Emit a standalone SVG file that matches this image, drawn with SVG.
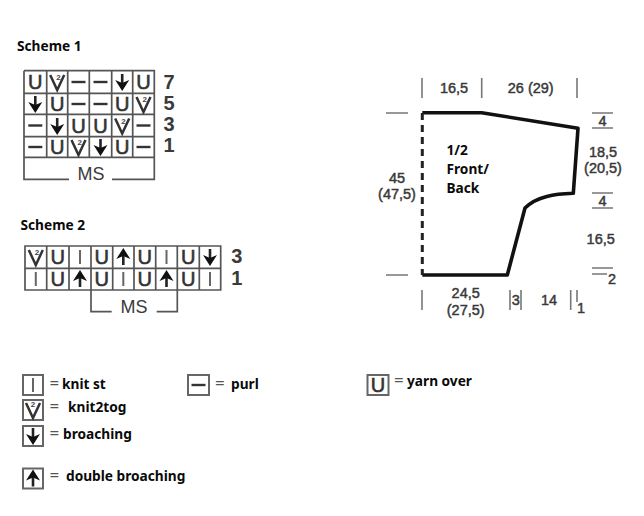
<svg xmlns="http://www.w3.org/2000/svg" width="644" height="516" viewBox="0 0 644 516">
<style>
.lb{font-family:"Noto Sans","Open Sans",sans-serif;font-weight:700;font-size:13.7px;fill:#0a0a0a}
.eq{fill:#555;font-weight:400;font-size:17px}
.g{font-family:"Liberation Sans",Arial,sans-serif;fill:#383838;stroke:#383838;stroke-width:.45;font-size:14.5px;text-anchor:middle}
.u{font-family:"Liberation Sans",Arial,sans-serif;fill:#333;stroke:#333;stroke-width:.6;font-size:20px;text-anchor:middle}
.n{font-family:"Liberation Sans",Arial,sans-serif;font-weight:700;fill:#3a3a3a;font-size:20px;text-anchor:middle}
.ms{font-family:"Liberation Sans",Arial,sans-serif;fill:#3a3a3a;font-size:18px;text-anchor:middle}
.tw{font-family:"Liberation Sans",Arial,sans-serif;font-weight:700;fill:#444;font-size:8px;text-anchor:middle}
.grid{fill:none;stroke:#555;stroke-width:1.7}
.sym{fill:none;stroke:#333;stroke-width:2.4}
.box{fill:#fff;stroke:#666;stroke-width:2}
.t{fill:none;stroke:#777;stroke-width:1.6}
.cut{fill:none;stroke:#111;stroke-width:3.6;stroke-linejoin:round}
</style>
<defs>
<g id="dn"><path d="M0-8V5" stroke="#222" stroke-width="2.6" fill="none"/><path d="M-7-2 0 9 7-2 0 1Z" fill="#111"/></g>
<g id="up"><path d="M0 8V-5" stroke="#222" stroke-width="2.6" fill="none"/><path d="M-7 2 0-9 7 2 0-1Z" fill="#111"/></g>
<path id="pu" d="M-7 0H7" class="sym"/>
<path id="kn" d="M0-7V7" fill="none" stroke="#666" stroke-width="2"/>
<path id="k2" d="M-7-7 0 8 7-7" fill="none" stroke="#333" stroke-width="2.5"/>
</defs>

<g id="scheme1">
<text class="lb" x="17" y="51">Scheme 1</text>
<path class="grid" d="M24 70.7H154.3V179.3H112M69 179.3H24V70.7M24 93.3H154.3M24 114.3H154.3M24 136.7H154.3M24 157.3H154.3M46.7 70.7V157.3M67.7 70.7V157.3M89.3 70.7V157.3M111.7 70.7V157.3M132.7 70.7V157.3"/>
<text class="u" x="35.3" y="89">U</text><use href="#k2" x="57.2" y="82"/><text class="tw" x="58.5" y="80">2</text><use href="#pu" x="78.5" y="82"/><use href="#pu" x="100.5" y="82"/><use href="#dn" x="122.2" y="82"/><text class="u" x="143.5" y="89">U</text>
<use href="#dn" x="35.3" y="104"/><text class="u" x="57.2" y="111">U</text><use href="#pu" x="78.5" y="104"/><use href="#pu" x="100.5" y="104"/><text class="u" x="122.2" y="111">U</text><use href="#k2" x="143.5" y="104"/><text class="tw" x="144.8" y="102">2</text>
<use href="#pu" x="35.3" y="125.5"/><use href="#dn" x="57.2" y="126"/><text class="u" x="78.5" y="132.5">U</text><text class="u" x="100.5" y="132.5">U</text><use href="#k2" x="122.2" y="125.5"/><text class="tw" x="123.5" y="123.5">2</text><use href="#pu" x="143.5" y="125.5"/>
<use href="#pu" x="35.3" y="147"/><text class="u" x="57.2" y="154">U</text><use href="#k2" x="78.5" y="147"/><text class="tw" x="79.8" y="145">2</text><use href="#dn" x="100.5" y="147"/><text class="u" x="122.2" y="154">U</text><use href="#pu" x="143.5" y="147"/>
<text class="n" x="169" y="89">7</text><text class="n" x="169" y="110">5</text><text class="n" x="169" y="131">3</text><text class="n" x="169" y="151.5">1</text>
<text class="ms" x="91" y="180">MS</text>
</g>

<g id="scheme2">
<text class="lb" x="20.5" y="230">Scheme 2</text>
<path class="grid" d="M25 246H220.7V290H25ZM25 268.3H220.7M46.7 246V290M69 246V290M91 246V311.7H111.7M112.7 246V290M134 246V290M155.7 246V290M177.3 246V311.7H156.7M199.3 246V290"/>
<use href="#k2" x="35.8" y="257"/><text class="tw" x="37" y="255">2</text><text class="u" x="57.8" y="264">U</text><use href="#kn" x="80" y="257"/><text class="u" x="101.8" y="264">U</text><use href="#up" x="123.3" y="257"/><text class="u" x="144.8" y="264">U</text><use href="#kn" x="166.5" y="257"/><text class="u" x="188.3" y="264">U</text><use href="#dn" x="210" y="257"/>
<use href="#kn" x="35.8" y="279"/><text class="u" x="57.8" y="286">U</text><use href="#up" x="80" y="279"/><text class="u" x="101.8" y="286">U</text><use href="#kn" x="123.3" y="279"/><text class="u" x="144.8" y="286">U</text><use href="#up" x="166.5" y="279"/><text class="u" x="188.3" y="286">U</text><use href="#kn" x="210" y="279"/>
<text class="n" x="236.7" y="263">3</text><text class="n" x="236.7" y="285">1</text>
<text class="ms" x="134" y="313">MS</text>
</g>

<g id="pattern">
<path class="cut" d="M422.3 112.7H481.7L578 128.3L573.3 193.3C555 194 537 196 525 208L507.3 275H422.3"/>
<path d="M422.3 113V275" fill="none" stroke="#222" stroke-width="3" stroke-dasharray="7 5"/>
<path class="t" d="M422 78V98M481.7 78V98M577 78V98M386 113H408M386 275H408M592 113H613M592 128H613M592 193H613M592 208H613M592 268H613M592 274H607M422 290V310M510 290V310M521 290V310M570.7 290V310M577 290V302"/>
<text class="g" x="454" y="93">16,5</text>
<text class="g" x="530.7" y="93">26 (29)</text>
<text class="g" x="602.5" y="125.5">4</text>
<text class="g" x="603" y="157">18,5</text>
<text class="g" x="603" y="173">(20,5)</text>
<text class="g" x="602.5" y="206">4</text>
<text class="g" x="600.7" y="244">16,5</text>
<text class="g" x="612" y="284">2</text>
<text class="g" x="397" y="182.5">45</text>
<text class="g" x="397" y="199">(47,5)</text>
<text class="g" x="465.7" y="298">24,5</text>
<text class="g" x="465.7" y="314.5">(27,5)</text>
<text class="g" x="515.7" y="305">3</text>
<text class="g" x="549" y="305">14</text>
<text class="g" x="581" y="313">1</text>
<text class="lb" x="446.5" y="155">1/2</text>
<text class="lb" x="446.5" y="174">Front/</text>
<text class="lb" x="446.5" y="192.5">Back</text>
</g>

<g id="legend-knit"><rect class="box" x="23" y="375" width="20" height="20"/><use href="#kn" x="33" y="385"/><text class="lb" x="49.5" y="389"><tspan class="eq">=</tspan><tspan x="62">knit st</tspan></text></g>
<g id="legend-purl"><rect class="box" x="188" y="375" width="21" height="20"/><use href="#pu" x="198.5" y="385"/><text class="lb" x="215" y="389"><tspan class="eq">=</tspan><tspan x="231">purl</tspan></text></g>
<g id="legend-yarn"><rect class="box" x="367.5" y="375" width="21" height="20"/><text class="u" x="378" y="392">U</text><text class="lb" x="394" y="386"><tspan class="eq">=</tspan><tspan x="407">yarn over</tspan></text></g>
<g id="legend-k2tog"><rect class="box" x="23" y="400" width="20" height="20"/><use href="#k2" x="33" y="410"/><text class="tw" x="33" y="407">2</text><text class="lb" x="49.5" y="412"><tspan class="eq">=</tspan><tspan x="68">knit2tog</tspan></text></g>
<g id="legend-broaching"><rect class="box" x="23" y="426" width="20" height="20"/><use href="#dn" x="33" y="436"/><text class="lb" x="49.5" y="439"><tspan class="eq">=</tspan><tspan x="63">broaching</tspan></text></g>
<g id="legend-double"><rect class="box" x="23" y="468.5" width="20" height="20"/><use href="#up" x="33" y="478.5"/><text class="lb" x="49.5" y="481"><tspan class="eq">=</tspan><tspan x="66">double broaching</tspan></text></g>
</svg>
